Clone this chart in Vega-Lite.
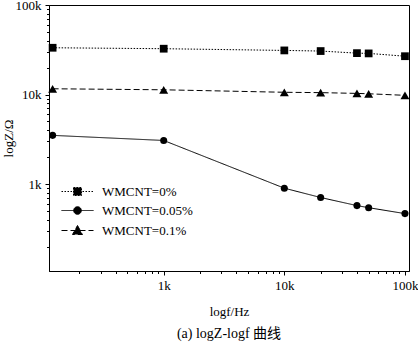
{
  "$schema": "https://vega.github.io/schema/vega-lite/v6.json",
  "width": 360,
  "height": 266,
  "autosize": {"type": "none"},
  "padding": {"left": 49, "top": 5, "right": 9, "bottom": 80},
  "background": "white",
  "config": {
    "view": {"stroke": "black", "strokeWidth": 1},
    "font": "Liberation Serif, Times New Roman, serif",
    "axis": {
      "grid": false,
      "domainColor": "black",
      "domainWidth": 1,
      "tickColor": "black",
      "labelColor": "black",
      "titleColor": "black",
      "labelFont": "Liberation Serif, Times New Roman, serif",
      "labelFontSize": 13,
      "titleFont": "Liberation Serif, Times New Roman, serif",
      "titleFontSize": 13,
      "titleFontWeight": "normal",
      "labelOverlap": false,
      "labelPadding": 4,
      "labelExpr": "datum.value==1000?'1k':datum.value==10000?'10k':datum.value==100000?'100k':''",
      "tickSize": {"condition": {"test": "datum.value==1000||datum.value==10000||datum.value==100000", "value": 4}, "value": 2.5}
    }
  },
  "title": {
    "text": "(a) logZ-logf 曲线",
    "orient": "bottom",
    "font": "Liberation Serif, Times New Roman, Noto Sans CJK SC, serif",
    "fontSize": 14,
    "fontWeight": "normal",
    "color": "black",
    "offset": 9
  },
  "data": {
    "values": [
      {"f": 120, "z": 33300, "s": "WMCNT=0%"},
      {"f": 1000, "z": 32500, "s": "WMCNT=0%"},
      {"f": 10000, "z": 31100, "s": "WMCNT=0%"},
      {"f": 20000, "z": 30600, "s": "WMCNT=0%"},
      {"f": 40000, "z": 29000, "s": "WMCNT=0%"},
      {"f": 50000, "z": 28800, "s": "WMCNT=0%"},
      {"f": 100000, "z": 26800, "s": "WMCNT=0%"},
      {"f": 120, "z": 3500, "s": "WMCNT=0.05%"},
      {"f": 1000, "z": 3070, "s": "WMCNT=0.05%"},
      {"f": 10000, "z": 900, "s": "WMCNT=0.05%"},
      {"f": 20000, "z": 708, "s": "WMCNT=0.05%"},
      {"f": 40000, "z": 575, "s": "WMCNT=0.05%"},
      {"f": 50000, "z": 545, "s": "WMCNT=0.05%"},
      {"f": 100000, "z": 468, "s": "WMCNT=0.05%"},
      {"f": 120, "z": 11600, "s": "WMCNT=0.1%"},
      {"f": 1000, "z": 11300, "s": "WMCNT=0.1%"},
      {"f": 10000, "z": 10600, "s": "WMCNT=0.1%"},
      {"f": 20000, "z": 10500, "s": "WMCNT=0.1%"},
      {"f": 40000, "z": 10300, "s": "WMCNT=0.1%"},
      {"f": 50000, "z": 10200, "s": "WMCNT=0.1%"},
      {"f": 100000, "z": 9800, "s": "WMCNT=0.1%"}
    ]
  },
  "encoding": {
    "x": {
      "field": "f",
      "type": "quantitative",
      "scale": {"type": "log", "domain": [112, 108000]},
      "axis": {
        "title": "logf/Hz",
        "titlePadding": 13,
        "values": [200, 300, 400, 500, 600, 700, 800, 900, 1000, 2000, 3000, 4000, 5000, 6000, 7000, 8000, 9000, 10000, 20000, 30000, 40000, 50000, 60000, 70000, 80000, 90000, 100000]
      }
    },
    "y": {
      "field": "z",
      "type": "quantitative",
      "scale": {"type": "log", "domain": [107, 100000]},
      "axis": {
        "title": "logZ/Ω",
        "titlePadding": 0,
        "values": [200, 300, 400, 500, 600, 700, 800, 900, 1000, 2000, 3000, 4000, 5000, 6000, 7000, 8000, 9000, 10000, 20000, 30000, 40000, 50000, 60000, 70000, 80000, 90000, 100000]
      }
    }
  },
  "layer": [
    {
      "mark": {"type": "line", "color": "black", "strokeWidth": 1},
      "encoding": {
        "strokeDash": {
          "field": "s",
          "type": "nominal",
          "scale": {"domain": ["WMCNT=0%", "WMCNT=0.05%", "WMCNT=0.1%"], "range": [[1.5, 1.5], [1, 0], [6, 3]]},
          "legend": {
            "orient": "none",
            "legendX": 22,
            "legendY": 180,
            "title": null,
            "padding": 0,
            "symbolSize": 100,
            "symbolStrokeWidth": 1,
            "symbolStrokeColor": "black",
            "symbolFillColor": "black",
            "labelFont": "Liberation Serif, Times New Roman, serif",
            "labelFontSize": 13,
            "labelColor": "black",
            "labelOffset": 18,
            "rowPadding": 5,
            "encode": {
              "symbols": {
                "update": {
                  "shape": {"signal": "datum.value === 'WMCNT=0%' ? 'M-3.2,0H3.2M-0.8,-0.8H0.8V0.8H-0.8Z' : datum.value === 'WMCNT=0.05%' ? 'M-3.2,0H3.2M-0.76,0A0.76,0.76,0,1,1,0.76,0A0.76,0.76,0,1,1,-0.76,0Z' : 'M-3.2,0H3.2M0,-1L1,0.8H-1Z'"},
                  "fill": {"value": "black"},
                  "fillOpacity": {"value": 1},
                  "stroke": {"value": "black"},
                  "strokeOpacity": {"value": 1},
                  "strokeWidth": {"value": 1},
                  "opacity": {"value": 1}
                }
              }
            }
          }
        }
      }
    },
    {
      "transform": [{"filter": "datum.s === 'WMCNT=0%'"}],
      "mark": {"type": "point", "filled": true, "color": "black", "opacity": 1, "shape": "square", "size": 60}
    },
    {
      "transform": [{"filter": "datum.s === 'WMCNT=0.05%'"}],
      "mark": {"type": "point", "filled": true, "color": "black", "opacity": 1, "shape": "circle", "size": 50}
    },
    {
      "transform": [{"filter": "datum.s === 'WMCNT=0.1%'"}],
      "mark": {"type": "point", "filled": true, "color": "black", "opacity": 1, "shape": "triangle-up", "size": 80}
    }
  ]
}
